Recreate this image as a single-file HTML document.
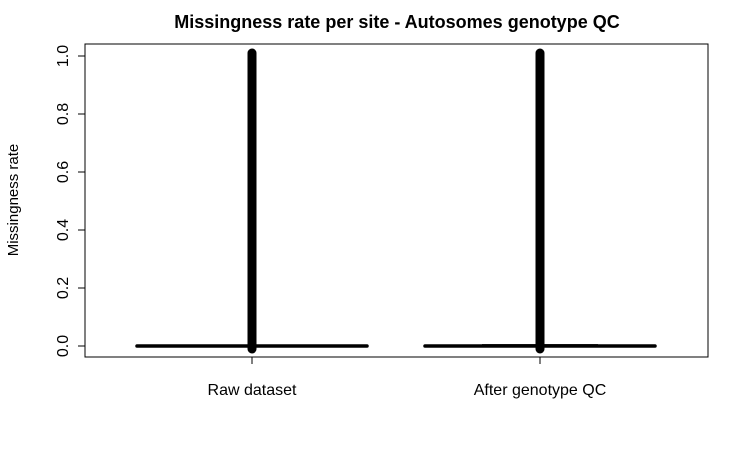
<!DOCTYPE html>
<html><head><meta charset="utf-8"><style>
body{margin:0;background:#fff;width:751px;height:464px;overflow:hidden}
svg{font-family:"Liberation Sans",Arial,sans-serif}
</style></head><body>
<svg id="chart" width="751" height="464">
<text x="397" y="28" text-anchor="middle" font-size="18" font-weight="bold">Missingness rate per site - Autosomes genotype QC</text>
<rect x="85" y="44" width="623" height="313" fill="none" stroke="#000" stroke-width="1"/>
<text transform="translate(18,200) rotate(-90)" text-anchor="middle" font-size="15">Missingness rate</text>
<g id="yaxis"></g>
<g id="xaxis"></g>
<g id="boxes"></g>
</svg>
<script>
const categories = ["Raw dataset", "After genotype QC"];
const medians = [0.0, 0.0];
const q1 = [0.0, 0.0];
const q3 = [0.0, 0.003];
const outlierMin = [0.0, 0.0];
const outlierMax = [1.0, 1.0];
const yTicks = [0, 0.2, 0.4, 0.6, 0.8, 1.0];
const yTickLabels = ["0.0","0.2","0.4","0.6","0.8","1.0"];

const NS="http://www.w3.org/2000/svg";
const y = v => 346 - v*290;
const xc = i => 252 + i*288;
function mk(t,a,p){const e=document.createElementNS(NS,t);for(const k in a)e.setAttribute(k,a[k]);p.appendChild(e);return e;}
const ya=document.getElementById('yaxis'), xa=document.getElementById('xaxis'), bx=document.getElementById('boxes');
mk('line',{x1:85,x2:85,y1:y(0),y2:y(1),stroke:'#000'},ya);
yTicks.forEach((v,i)=>{
  const t=mk('line',{x1:78,x2:85,y1:y(v),y2:y(v),stroke:'#000'},ya);
  
  
  const l=mk('text',{transform:`translate(68,${y(v)}) rotate(-90)`,'text-anchor':'middle','font-size':16},ya);
  l.textContent=yTickLabels[i];
  
  
});
mk('line',{x1:xc(0),x2:xc(categories.length-1),y1:357,y2:357,stroke:'#000'},xa);
categories.forEach((c,i)=>{
  const t=mk('line',{x1:xc(i),x2:xc(i),y1:357,y2:364,stroke:'#000'},xa);
  
  
  const l=mk('text',{x:xc(i),y:395,'text-anchor':'middle','font-size':16},xa);
  l.textContent=c;
  
  
  const o=mk('line',{x1:xc(i),x2:xc(i),y1:y(outlierMin[i])+3,y2:y(outlierMax[i])-3,stroke:'#000','stroke-width':9,'stroke-linecap':'round'},bx);
  
  
  const b=mk('rect',{x:xc(i)-58,y:y(q3[i])-1,width:116,height:Math.max(2,y(q1[i])-y(q3[i])+2),fill:'#000'},bx);
  
  
  const m=mk('line',{x1:xc(i)-115,x2:xc(i)+115,y1:y(medians[i]),y2:y(medians[i]),stroke:'#000','stroke-width':3.5,'stroke-linecap':'round'},bx);
  
  
});
</script>
</body></html>
